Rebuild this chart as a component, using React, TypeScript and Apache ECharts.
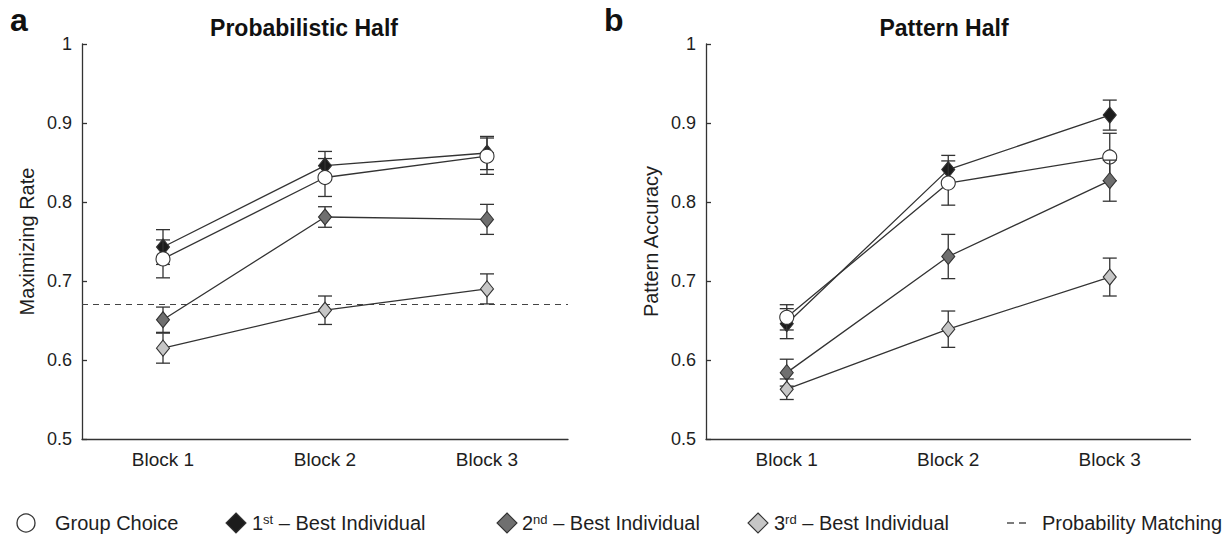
import React, { useEffect, useRef } from "react";
import * as echarts from "echarts";

const blocks = ["Block 1", "Block 2", "Block 3"];

// Probabilistic half (panel a)
const probGroup = [0.728, 0.831, 0.858];
const probGroupErr = [0.024, 0.024, 0.023];
const probFirst = [0.743, 0.846, 0.862];
const probFirstErr = [0.022, 0.018, 0.021];
const probSecond = [0.651, 0.781, 0.778];
const probSecondErr = [0.016, 0.013, 0.019];
const probThird = [0.615, 0.663, 0.69];
const probThirdErr = [0.019, 0.018, 0.019];
const probabilityMatching = 0.67;

// Pattern half (panel b)
const patGroup = [0.654, 0.824, 0.857];
const patGroupErr = [0.016, 0.028, 0.03];
const patFirst = [0.646, 0.841, 0.91];
const patFirstErr = [0.019, 0.018, 0.019];
const patSecond = [0.584, 0.731, 0.827];
const patSecondErr = [0.017, 0.028, 0.026];
const patThird = [0.563, 0.639, 0.705];
const patThirdErr = [0.013, 0.023, 0.024];

const FONT = "'Liberation Sans', Arial, Helvetica, sans-serif";
const INK = "#333";
const TEXT = "#1e1e1e";

const seriesDefs = [
  { key: "first", name: "1st – Best Individual", symbol: "diamond", size: [13, 16], fill: "#1c1c1c" },
  { key: "group", name: "Group Choice", symbol: "circle", size: 14, fill: "#ffffff" },
  { key: "second", name: "2nd – Best Individual", symbol: "diamond", size: [13, 16], fill: "#6f6f6f" },
  { key: "third", name: "3rd – Best Individual", symbol: "diamond", size: [13, 16], fill: "#c6c6c6" },
];

const panelData: any = {
  0: {
    group: [probGroup, probGroupErr],
    first: [probFirst, probFirstErr],
    second: [probSecond, probSecondErr],
    third: [probThird, probThirdErr],
  },
  1: {
    group: [patGroup, patGroupErr],
    first: [patFirst, patFirstErr],
    second: [patSecond, patSecondErr],
    third: [patThird, patThirdErr],
  },
};

function errRender(params: any, api: any) {
  const x = api.value(0);
  const lo = api.value(1);
  const hi = api.value(2);
  const top = api.coord([x, hi]);
  const bot = api.coord([x, lo]);
  const hw = 7;
  const style = { stroke: INK, lineWidth: 1.3, fill: "none" };
  return {
    type: "group",
    children: [
      { type: "line", shape: { x1: top[0], y1: top[1], x2: bot[0], y2: bot[1] }, style },
      { type: "line", shape: { x1: top[0] - hw, y1: top[1], x2: top[0] + hw, y2: top[1] }, style },
      { type: "line", shape: { x1: bot[0] - hw, y1: bot[1], x2: bot[0] + hw, y2: bot[1] }, style },
    ],
  };
}

function buildSeries() {
  const out: any[] = [];
  [0, 1].forEach((p) => {
    seriesDefs.forEach((d, i) => {
      const [vals, errs] = panelData[p][d.key];
      out.push({
        type: "custom",
        name: d.name + " error",
        xAxisIndex: p,
        yAxisIndex: p,
        renderItem: errRender,
        encode: { x: 0, y: [1, 2] },
        data: vals.map((v: number, k: number) => [k, v - errs[k], v + errs[k]]),
        z: 2 + i * 2,
        silent: true,
      });
      const line: any = {
        type: "line",
        name: d.name,
        xAxisIndex: p,
        yAxisIndex: p,
        data: vals,
        symbol: d.symbol,
        symbolSize: d.size,
        showSymbol: true,
        itemStyle: { color: d.fill, borderColor: INK, borderWidth: 1.1 },
        lineStyle: { color: INK, width: 1.3 },
        emphasis: { disabled: true },
        z: 3 + i * 2,
        silent: true,
      };
      if (p === 0 && i === 0) {
        line.markLine = {
          silent: true,
          symbol: ["none", "none"],
          label: { show: false },
          lineStyle: { color: "#444", type: [6, 5], width: 1.2 },
          data: [{ yAxis: probabilityMatching }],
          z: 1,
        };
      }
      out.push(line);
    });
  });
  return out;
}

function makeXAxis(idx: number) {
  return {
    type: "category",
    gridIndex: idx,
    data: blocks,
    boundaryGap: true,
    axisLine: { lineStyle: { color: INK, width: 1.3 } },
    axisTick: { inside: true, alignWithLabel: true, length: 5, lineStyle: { color: INK, width: 1.3 } },
    axisLabel: { color: TEXT, fontSize: 19, fontFamily: FONT, margin: 11 },
    splitLine: { show: false },
  };
}

function makeYAxis(idx: number, name: string) {
  return {
    type: "value",
    gridIndex: idx,
    min: 0.5,
    max: 1,
    interval: 0.1,
    name,
    nameLocation: "middle",
    nameGap: 45,
    nameTextStyle: { color: TEXT, fontSize: 20, fontFamily: FONT },
    axisLine: { show: true, lineStyle: { color: INK, width: 1.3 } },
    axisTick: { show: true, inside: true, length: 5, lineStyle: { color: INK, width: 1.3 } },
    axisLabel: {
      color: TEXT,
      fontSize: 18,
      fontFamily: FONT,
      margin: 10,
      formatter: (v: number) => (Math.abs(v - 1) < 1e-9 ? "1" : v.toFixed(1)),
    },
    splitLine: { show: false },
  };
}

function legendGraphics() {
  const cy = 523;
  const textStyle = (text: string) => ({
    text,
    fontSize: 20,
    fontFamily: FONT,
    fill: TEXT,
    verticalAlign: "middle",
    rich: {
      sup: { fontSize: 13, fontFamily: FONT, fill: TEXT, verticalAlign: "top" },
    },
  });
  const diamond = (cx: number, fill: string) => ({
    type: "polygon",
    shape: { points: [[cx, cy - 10], [cx + 10, cy], [cx, cy + 10], [cx - 10, cy]] },
    style: { fill, stroke: INK, lineWidth: 1.1 },
  });
  return [
    { type: "circle", shape: { cx: 26, cy, r: 9 }, style: { fill: "#fff", stroke: INK, lineWidth: 1.3 } },
    { type: "text", x: 55, y: cy, style: textStyle("Group Choice") },
    diamond(236, "#1c1c1c"),
    { type: "text", x: 252, y: cy, style: textStyle("1{sup|st} \u2013 Best Individual") },
    diamond(507, "#6f6f6f"),
    { type: "text", x: 522, y: cy, style: textStyle("2{sup|nd} \u2013 Best Individual") },
    diamond(758, "#c6c6c6"),
    { type: "text", x: 774, y: cy, style: textStyle("3{sup|rd} \u2013 Best Individual") },
    { type: "line", shape: { x1: 1007, y1: cy, x2: 1014, y2: cy }, style: { stroke: INK, lineWidth: 1.3 } },
    { type: "line", shape: { x1: 1019, y1: cy, x2: 1026, y2: cy }, style: { stroke: INK, lineWidth: 1.3 } },
    { type: "text", x: 1042, y: cy, style: textStyle("Probability Matching") },
  ];
}

export default function App() {
  const ref = useRef<HTMLDivElement>(null);
  useEffect(() => {
    if (!ref.current) return;
    const chart = echarts.init(ref.current, undefined, { renderer: "svg" });
    chart.setOption({
      animation: false,
      backgroundColor: "#ffffff",
      grid: [
        { left: 82, top: 44, width: 486, height: 395 },
        { left: 706, top: 44, width: 484.5, height: 395 },
      ],
      xAxis: [makeXAxis(0), makeXAxis(1)],
      yAxis: [makeYAxis(0, "Maximizing Rate"), makeYAxis(1, "Pattern Accuracy")],
      series: buildSeries(),
      graphic: [
        { type: "text", x: 10, y: 4, style: { text: "a", fontSize: 32, fontWeight: "bold", fontFamily: FONT, fill: "#111" } },
        { type: "text", x: 604, y: 4, style: { text: "b", fontSize: 32, fontWeight: "bold", fontFamily: FONT, fill: "#111" } },
        { type: "text", x: 304, y: 28, style: { text: "Probabilistic Half", fontSize: 23, fontWeight: "bold", fontFamily: FONT, fill: "#111", align: "center", verticalAlign: "middle" } },
        { type: "text", x: 944, y: 28, style: { text: "Pattern Half", fontSize: 23, fontWeight: "bold", fontFamily: FONT, fill: "#111", align: "center", verticalAlign: "middle" } },
        ...legendGraphics(),
      ],
    });
    return () => chart.dispose();
  }, []);
  return (
    <div
      ref={ref}
      style={{ position: "fixed", left: 0, top: 0, width: 1231, height: 538, background: "#fff" }}
    />
  );
}
